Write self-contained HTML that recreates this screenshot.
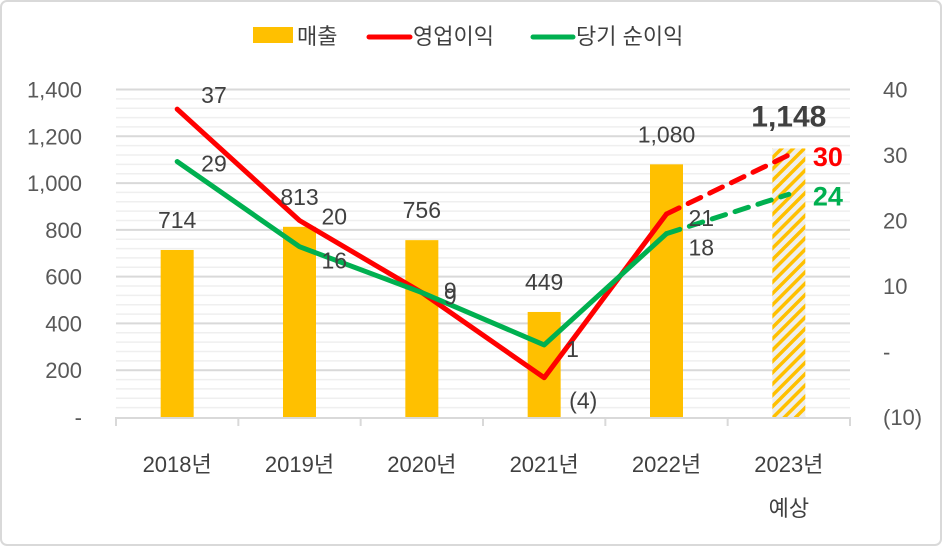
<!DOCTYPE html>
<html><head><meta charset="utf-8">
<style>
html,body{margin:0;padding:0;background:#fff;}
svg{display:block;font-family:"Liberation Sans","Noto Sans CJK KR",sans-serif;}
</style></head>
<body>
<svg id="chart" width="942" height="546" viewBox="0 0 942 546">
<defs>
<pattern id="hatch" width="8" height="8" patternUnits="userSpaceOnUse" patternTransform="rotate(45)">
<rect width="8" height="8" fill="#eeeeee"/>
<rect width="3.5" height="8" fill="#ffc000"/>
</pattern>
</defs>
<rect x="1" y="1" width="940" height="544" rx="6" fill="#fff" stroke="#d9d9d9" stroke-width="2"/>
<g id="grid"></g>
<g id="bars"></g>
<g id="lines"></g>
<g id="labels"></g>
<g id="axes"></g>
<g font-size="22" fill="#404040">
<rect x="253" y="27" width="40" height="16" fill="#ffc000"/>
<text x="297" y="44">매출</text>
<line x1="369" y1="37" x2="410" y2="37" stroke="#ff0000" stroke-width="5" stroke-linecap="round"/>
<text x="413" y="44">영업이익</text>
<line x1="533" y1="37" x2="573" y2="37" stroke="#00b050" stroke-width="5" stroke-linecap="round"/>
<text x="576" y="44">당기 순이익</text>
</g>
</svg>
<script>
const categories = ["2018년","2019년","2020년","2021년","2022년","2023년"];
const sales = [714, 813, 756, 449, 1080, 1148];
const operating = [37, 20, 9, -4, 21, 30];
const netIncome = [29, 16, 9, 1, 18, 24];
const leftTicks = [0,200,400,600,800,1000,1200,1400];
const leftTickLabels = ["-","200","400","600","800","1,000","1,200","1,400"];
const rightTicks = [-10,0,10,20,30,40];
const rightTickLabels = ["(10)","-","10","20","30","40"];
const salesLabels = ["714","813","756","449","1,080","1,148"];
const opLabels = ["37","20","9","(4)","21","30"];
const netLabels = ["29","16","9","1","18","24"];

const NS="http://www.w3.org/2000/svg";
const X0=116, X1=850, Y0=417, Y1=89.5;
const band=(X1-X0)/categories.length;
const xC=i=>X0+band*(i+0.5);
const yL=v=>Y0-(v/1400)*(Y0-Y1);
const yR=v=>Y0-((v+10)/50)*(Y0-Y1);
function mk(tag,attrs,parent,text){const e=document.createElementNS(NS,tag);for(const k in attrs)e.setAttribute(k,attrs[k]);if(text!==undefined)e.textContent=text;parent.appendChild(e);return e;}
const grid=document.getElementById('grid'),bars=document.getElementById('bars'),lines=document.getElementById('lines'),labels=document.getElementById('labels'),axes=document.getElementById('axes');

for(let v=0;v<=1400;v+=40){
  if(v===0) continue;
  const major=v%200===0;
  const l=mk('line',{x1:X0,x2:X1,y1:yL(v),y2:yL(v),stroke:major?'#d9d9d9':'#efefef','stroke-width':major?2:1.5},grid);
  
  
}
const ax=mk('line',{x1:X0,x2:X1,y1:Y0+1,y2:Y0+1,stroke:'#d9d9d9','stroke-width':2},axes);


for(let i=0;i<=categories.length;i++){
  const t=mk('line',{x1:X0+band*i,x2:X0+band*i,y1:Y0,y2:Y0+9,stroke:'#d9d9d9','stroke-width':2},axes);
  
  
}
leftTicks.forEach((v,i)=>{
  const t=mk('text',{x:82,y:yL(v)+8,'text-anchor':'end','font-size':22,fill:'#595959'},axes,leftTickLabels[i]);
  
  
});
rightTicks.forEach((v,i)=>{
  const t=mk('text',{x:883,y:yR(v)+8,'font-size':22,fill:'#595959'},axes,rightTickLabels[i]);
  
  
});
categories.forEach((c,i)=>{
  const t=mk('text',{x:xC(i),y:472,'text-anchor':'middle','font-size':22,fill:'#404040'},axes,c);
  
  
});
const est=mk('text',{x:xC(5),y:516,'text-anchor':'middle','font-size':22,fill:'#404040'},axes,'예상');



const bw=33;
sales.forEach((v,i)=>{
  const last=i===sales.length-1;
  const r=mk('rect',{x:xC(i)-bw/2,y:yL(v),width:bw,height:Y0-yL(v),fill:last?'url(#hatch)':'#ffc000'},bars);
  
  
  const t=mk('text',{x:xC(i),y:yL(v)-22,'text-anchor':'middle','font-size':last?30:23,'font-weight':last?'bold':'normal',fill:'#404040'},labels,salesLabels[i]);
  
  
});

function drawSeries(vals,color,name){
  const n=vals.length;
  const solid=vals.slice(0,n-1).map((v,i)=>xC(i)+','+yR(v)).join(' ');
  const p=mk('polyline',{points:solid,fill:'none',stroke:color,'stroke-width':5,'stroke-linecap':'round','stroke-linejoin':'round'},lines);
  
  
  const d=mk('line',{x1:xC(n-2),y1:yR(vals[n-2]),x2:xC(n-1),y2:yR(vals[n-1]),stroke:color,'stroke-width':5,'stroke-dasharray':'14 10','stroke-linecap':'round'},lines);
  
  
}
drawSeries(operating,'#ff0000','operating-profit');
drawSeries(netIncome,'#00b050','net-income');

const opOff=[[24,-6],[22,4],[22,12],[25,31],[22,12]];
const netOff=[[24,10],[22,22],[22,6],[22,12],[22,22]];
for(let i=0;i<5;i++){
  const a=mk('text',{x:xC(i)+opOff[i][0],y:yR(operating[i])+opOff[i][1],'font-size':23,fill:'#404040'},labels,opLabels[i]);
  
  
  const b=mk('text',{x:xC(i)+netOff[i][0],y:yR(netIncome[i])+netOff[i][1],'font-size':23,fill:'#404040'},labels,netLabels[i]);
  
  
}
const a5=mk('text',{x:xC(5)+24,y:yR(operating[5])+11,'font-size':27,'font-weight':'bold',fill:'#ff0000'},labels,opLabels[5]);


const b5=mk('text',{x:xC(5)+24,y:yR(netIncome[5])+11,'font-size':27,'font-weight':'bold',fill:'#00b050'},labels,netLabels[5]);


</script>
</body></html>
